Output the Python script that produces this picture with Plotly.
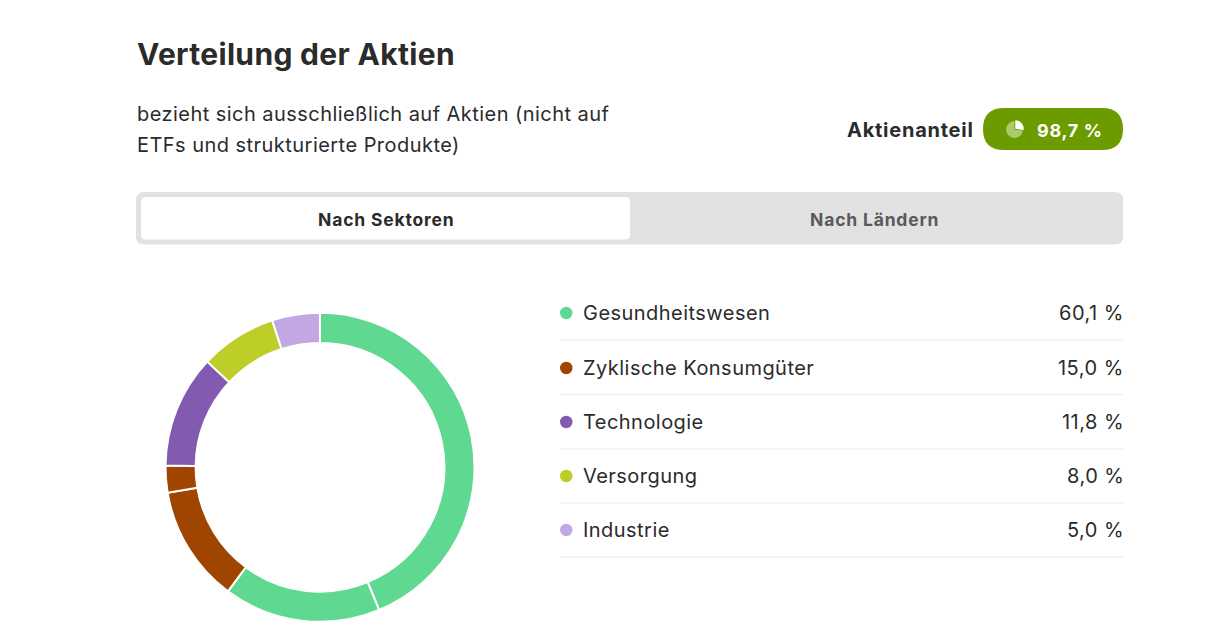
import plotly.graph_objects as go

WIDTH, HEIGHT = 1209, 641

# Sector breakdown
sectors = ["Gesundheitswesen", "Zyklische Konsumgüter", "Technologie", "Versorgung", "Industrie"]
shares = [60.1, 15.0, 11.8, 8.0, 5.0]
share_labels = ["60,1 %", "15,0 %", "11,8 %", "8,0 %", "5,0 %"]
sector_colors = ["#5FD891", "#A04500", "#825AB0", "#BDCE28", "#C3A7E2"]

# The ring shows some sectors as several holdings
ring_values = [43.7, 16.4, 12.2, 2.8, 11.8, 8.0, 5.0]
ring_colors = ["#5FD891", "#5FD891", "#A04500", "#A04500", "#825AB0", "#BDCE28", "#C3A7E2"]

# Small pie glyph in the badge
icon_values = [27, 73]
icon_colors = ["#FFFFFF", "#A9CB6D"]

TEXT = "#2B2B2B"
FONT = "Inter"


def px(x):
    return x / WIDTH


def py(y):
    return 1 - y / HEIGHT


def rounded(x0, y0, x1, y1, r):
    """SVG path of a rounded rectangle in paper coordinates."""
    pts = (
        f"M {px(x0 + r)} {py(y0)} L {px(x1 - r)} {py(y0)} "
        f"Q {px(x1)} {py(y0)} {px(x1)} {py(y0 + r)} L {px(x1)} {py(y1 - r)} "
        f"Q {px(x1)} {py(y1)} {px(x1 - r)} {py(y1)} L {px(x0 + r)} {py(y1)} "
        f"Q {px(x0)} {py(y1)} {px(x0)} {py(y1 - r)} L {px(x0)} {py(y0 + r)} "
        f"Q {px(x0)} {py(y0)} {px(x0 + r)} {py(y0)} Z"
    )
    return pts


def box(x0, y0, x1, y1, r, color):
    return dict(type="path", xref="paper", yref="paper", path=rounded(x0, y0, x1, y1, r),
                fillcolor=color, line=dict(width=0), layer="below")


def label(x, y, text, size, color=TEXT, weight=400, anchor="left", tracking=0.48):
    spaced = f'<span style="letter-spacing:{tracking}px">{text}</span>'
    return dict(x=px(x), y=py(y), xref="paper", yref="paper", text=spaced, showarrow=False,
                xanchor=anchor, yanchor="middle", align=anchor,
                font=dict(family=FONT, size=size, color=color, weight=weight),
                borderpad=0, borderwidth=0)


row_y = [313, 368, 422, 476, 530]
rule_y = [340, 394.5, 449, 503, 557]

shapes = [
    box(136, 192, 1123, 244.5, 8, "#E2E2E2"),
    box(141, 197, 630, 239.5, 5, "#FFFFFF"),
    box(983, 108, 1123, 150, 21, "#6C9B00"),
]
annotations = [
    label(137, 54, "Verteilung der Aktien", 30, weight=700, tracking=0.33),
    label(137, 114, "bezieht sich ausschließlich auf Aktien (nicht auf", 20, tracking=0.45),
    label(137, 145, "ETFs und strukturierte Produkte)", 20, tracking=0.46),
    label(973.5, 130, "Aktienanteil", 20, weight=700, anchor="right", tracking=0.75),
    label(1037, 130.5, "98,7 %", 18, color="#FFFFFF", weight=700, tracking=0.7),
    label(386, 219.5, "Nach Sektoren", 17.5, weight=700, anchor="center", tracking=0.82),
    label(874, 219.5, "Nach Ländern", 17.5, color="#5A5A5A", weight=700, anchor="center", tracking=0.82),
]

for name, share, color, y, rule in zip(sectors, share_labels, sector_colors, row_y, rule_y):
    shapes.append(dict(type="circle", xref="paper", yref="paper", layer="below",
                       x0=px(560), x1=px(572.5), y0=py(y + 6.2), y1=py(y - 6.2),
                       fillcolor=color, line=dict(width=0)))
    shapes.append(dict(type="line", xref="paper", yref="paper", layer="below",
                       x0=px(560), x1=px(1123), y0=py(rule), y1=py(rule),
                       line=dict(color="#F1F1F1", width=1.5)))
    annotations.append(label(583, y, name, 20, tracking=0.46))
    annotations.append(label(1124, y, share, 20, anchor="right"))

ring = go.Pie(
    values=ring_values,
    marker=dict(colors=ring_colors, line=dict(color="#FFFFFF", width=2)),
    hole=0.805, sort=False, direction="clockwise", rotation=0,
    textinfo="none", hoverinfo="skip", showlegend=False,
    domain=dict(x=[px(165.5), px(474.5)], y=[py(621.8), py(312.8)]),
)
icon = go.Pie(
    values=icon_values,
    pull=[0.12, 0],
    marker=dict(colors=icon_colors, line=dict(width=0)),
    sort=False, direction="clockwise", rotation=0,
    textinfo="none", hoverinfo="skip", showlegend=False,
    domain=dict(x=[px(1005), px(1024)], y=[py(139), py(120)]),
)

fig = go.Figure([ring, icon])
fig.update_layout(
    width=WIDTH, height=HEIGHT, margin=dict(l=0, r=0, t=0, b=0),
    paper_bgcolor="#FFFFFF", plot_bgcolor="#FFFFFF",
    font=dict(family=FONT, color=TEXT),
    shapes=shapes, annotations=annotations,
)
fig.write_html("out.html", config=dict(displayModeBar=False))
